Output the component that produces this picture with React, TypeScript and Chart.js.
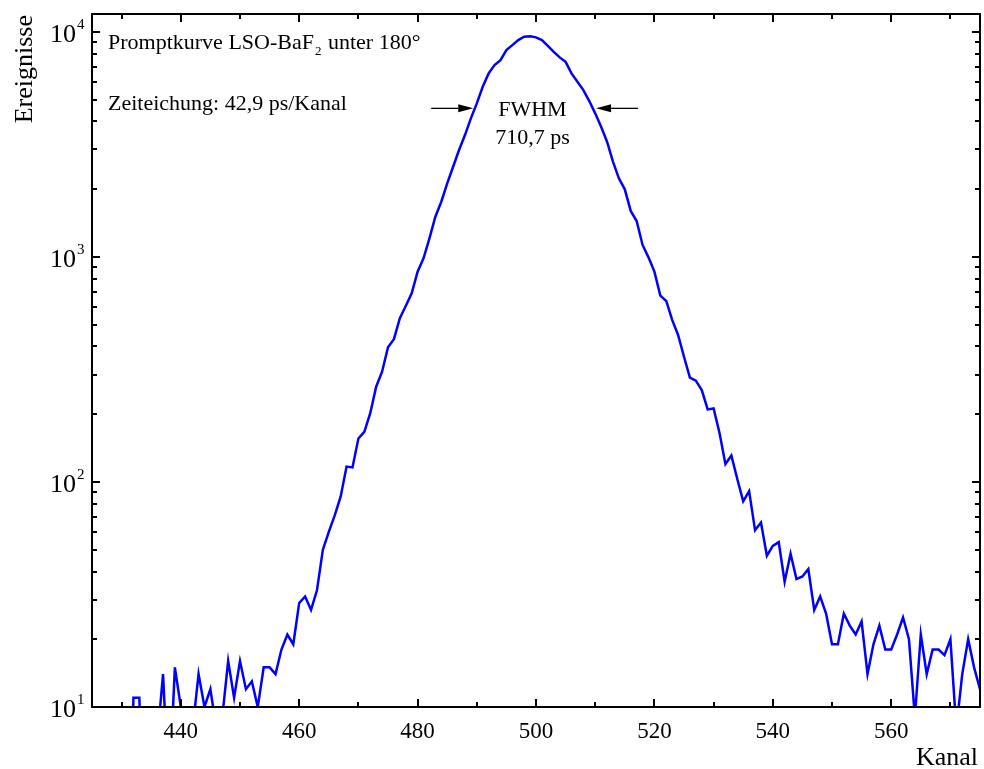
import React, { useEffect, useRef } from "react";
import { Chart, registerables } from "chart.js";

Chart.register(...registerables);

// ---- data ----
const FIRST_CHANNEL = 425;
// counts per channel, 425 ... 575 (values < 10 fall below the axis and are clipped)
const counts = [
  1, 1, 1, 1, 1, 1, 1, 11, 11, 1,          // 425-434
  1, 7, 14, 4, 15, 10, 6, 8, 14, 10,        // 435-444
  12, 8, 9, 16, 11, 16, 12, 13, 10, 15,     // 445-454
  15, 14, 18, 21, 19, 29, 31, 27, 33, 50,   // 455-464
  60, 71, 86, 117, 116, 156, 167, 202, 265, 309, // 465-474
  397, 431, 534, 605, 689, 860, 986, 1209, 1508, 1758, // 475-484
  2122, 2515, 2983, 3477, 4126, 4809, 5698, 6537, 7112, 7482, // 485-494
  8295, 8730, 9190, 9506, 9550, 9446, 9190, 8670, 8150, 7697, // 495-504
  7358, 6537, 5998, 5508, 4925, 4342, 3786, 3250, 2650, 2234, // 505-514
  1996, 1600, 1443, 1130, 995, 860, 673, 637, 525, 450, // 515-524
  360, 291, 282, 256, 210, 212, 165, 120, 131, 103, // 525-534
  82, 91, 61, 66, 47, 52, 54, 36, 48, 37,    // 535-544
  38, 41, 27, 31, 26, 19, 19, 26, 23, 21,    // 545-554
  24, 14, 19, 23, 18, 18, 21, 25, 20, 9,     // 555-564
  21, 14, 18, 18, 17, 20, 8, 14, 20, 15,     // 565-574
  12,                                        // 575
];
const channels = counts.map((_, i) => FIRST_CHANNEL + i);

const X_MIN = 425;
const X_MAX = 575;
const Y_MIN = 10;
const Y_MAX = 12000;

const xMajorTicks = [440, 460, 480, 500, 520, 540, 560];
const xMinorTicks = [430, 450, 470, 490, 510, 530, 550, 570];
const xTickLabels = ["440", "460", "480", "500", "520", "540", "560"];
const yMajorTicks = [10, 100, 1000, 10000];
const yTickExponents = ["1", "2", "3", "4"];

const titleText = "Promptkurve LSO-BaF";
const titleSub = "2";
const titleRest = " unter 180°";
const calibText = "Zeiteichung: 42,9 ps/Kanal";
const fwhmLabel = "FWHM";
const fwhmValue = "710,7 ps";
const FWHM_LEVEL = 4570;
const FWHM_LEFT = 489.4;
const FWHM_RIGHT = 510.15;
const ARROW_LEN = 7.1; // channels
const FWHM_TEXT_CHANNEL = 499.4;

const yTitle = "Ereignisse";
const xTitle = "Kanal";

const SERIF = '"Liberation Serif", "DejaVu Serif", serif';

const framePlugin = {
  id: "framePlugin",
  afterDraw(chart: any) {
    const { ctx, chartArea: ca, scales } = chart;
    const xs = scales.x;
    const ys = scales.y;
    ctx.save();
    ctx.strokeStyle = "#000";
    ctx.fillStyle = "#000";
    ctx.lineWidth = 2;
    ctx.lineCap = "butt";
    ctx.strokeRect(ca.left, ca.top, ca.right - ca.left, ca.bottom - ca.top);

    const MAJ = 8;
    const MIN = 5;
    ctx.beginPath();
    const vtick = (v: number, len: number) => {
      const px = Math.round(xs.getPixelForValue(v));
      ctx.moveTo(px, ca.bottom);
      ctx.lineTo(px, ca.bottom - len);
      ctx.moveTo(px, ca.top);
      ctx.lineTo(px, ca.top + len);
    };
    xMajorTicks.forEach((v) => vtick(v, MAJ));
    xMinorTicks.forEach((v) => vtick(v, MIN));
    const htick = (v: number, len: number) => {
      const py = Math.round(ys.getPixelForValue(v));
      ctx.moveTo(ca.left, py);
      ctx.lineTo(ca.left + len, py);
      ctx.moveTo(ca.right, py);
      ctx.lineTo(ca.right - len, py);
    };
    yMajorTicks.forEach((v) => {
      if (v > Y_MIN) htick(v, MAJ);
      for (let m = 2; m <= 9; m++) {
        if (v * m < Y_MAX) htick(v * m, MIN);
      }
    });
    ctx.stroke();

    // x tick labels
    ctx.font = `23px ${SERIF}`;
    ctx.textAlign = "center";
    ctx.textBaseline = "alphabetic";
    xMajorTicks.forEach((v, i) => {
      ctx.fillText(xTickLabels[i], xs.getPixelForValue(v), ca.bottom + 31);
    });

    // y tick labels 10^n
    yMajorTicks.forEach((v, i) => {
      const py = ys.getPixelForValue(v);
      ctx.font = `26px ${SERIF}`;
      ctx.textAlign = "right";
      ctx.fillText("10", ca.left - 16, py + 10);
      ctx.font = `15px ${SERIF}`;
      ctx.textAlign = "left";
      ctx.fillText(yTickExponents[i], ca.left - 15, py - 3);
    });

    // axis titles
    ctx.font = `26px ${SERIF}`;
    ctx.save();
    ctx.translate(32, ca.top + 1);
    ctx.rotate(-Math.PI / 2);
    ctx.textAlign = "right";
    ctx.fillText(yTitle, 0, 0);
    ctx.restore();
    ctx.textAlign = "right";
    ctx.fillText(xTitle, ca.right - 2, 765);

    // in-plot texts
    ctx.font = `22px ${SERIF}`;
    ctx.textAlign = "left";
    let tx = ca.left + 16;
    ctx.fillText(titleText, tx, ca.top + 35);
    tx += ctx.measureText(titleText).width;
    ctx.font = `13px ${SERIF}`;
    ctx.fillText(titleSub, tx + 1, ca.top + 41);
    tx += ctx.measureText(titleSub).width + 2;
    ctx.font = `22px ${SERIF}`;
    ctx.fillText(titleRest, tx, ca.top + 35);
    ctx.fillText(calibText, ca.left + 16, ca.top + 96);

    // FWHM annotation
    const ay = ys.getPixelForValue(FWHM_LEVEL);
    ctx.textAlign = "center";
    const fx = xs.getPixelForValue(FWHM_TEXT_CHANNEL);
    ctx.fillText(fwhmLabel, fx, ay + 8);
    ctx.fillText(fwhmValue, fx, ay + 36);

    const arrow = (tail: number, tip: number) => {
      const x0 = xs.getPixelForValue(tail);
      const x1 = xs.getPixelForValue(tip);
      const dir = Math.sign(x1 - x0);
      const head = 15;
      ctx.lineWidth = 1.3;
      ctx.beginPath();
      ctx.moveTo(x0, ay);
      ctx.lineTo(x1 - dir * head, ay);
      ctx.stroke();
      ctx.beginPath();
      ctx.moveTo(x1, ay);
      ctx.lineTo(x1 - dir * head, ay - 4);
      ctx.lineTo(x1 - dir * head, ay + 4);
      ctx.closePath();
      ctx.fill();
    };
    arrow(FWHM_LEFT - ARROW_LEN, FWHM_LEFT);
    arrow(FWHM_RIGHT + ARROW_LEN, FWHM_RIGHT);

    ctx.restore();
  },
};

export default function App() {
  const canvasRef = useRef<HTMLCanvasElement | null>(null);

  useEffect(() => {
    if (!canvasRef.current) return;
    const chart = new Chart(canvasRef.current, {
      type: "line",
      data: {
        datasets: [
          {
            label: "Promptkurve",
            data: counts.map((c, i) => ({ x: channels[i], y: c })),
            borderColor: "#0000ff",
            backgroundColor: "#0000ff",
            borderWidth: 2.5,
            pointRadius: 0,
            tension: 0,
            fill: false,
          },
        ],
      },
      options: {
        animation: false,
        responsive: false,
        layout: { padding: { left: 92, right: 4, top: 14, bottom: 62 } },
        plugins: {
          legend: { display: false },
          tooltip: { enabled: false },
        },
        scales: {
          x: { type: "linear", min: X_MIN, max: X_MAX, display: false },
          y: { type: "logarithmic", min: Y_MIN, max: Y_MAX, display: false },
        },
      },
      plugins: [framePlugin],
    });
    return () => chart.destroy();
  }, []);

  return (
    <div style={{ position: "absolute", left: 0, top: 0, width: 984, height: 769, background: "#fff" }}>
      <canvas ref={canvasRef} width={984} height={769} style={{ display: "block" }} />
    </div>
  );
}
